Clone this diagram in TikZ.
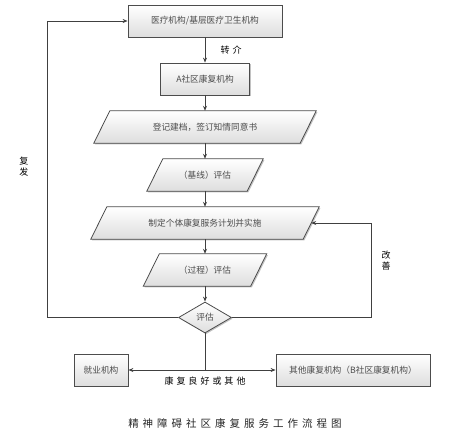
\documentclass[tikz,border=0pt]{standalone}
\usepackage{fontspec}
\newfontfamily\cjk{Noto Sans CJK SC}
\usetikzlibrary{shapes.geometric,shadows,arrows.meta,backgrounds}
\newcommand\zzsp{\hspace{3pt}}
\newcommand\zzts{\hspace{4pt}}
\begin{document}
\begin{tikzpicture}[x=1pt,y=-1pt,
  line/.style={draw=black!75, line width=0.8pt},
  arr/.style={line, -{Stealth[length=5pt,width=4pt]}},
  boxbase/.style={font=\cjk\fontsize{8.7}{10}\selectfont, text=black!70, inner sep=0pt},
  fillstyle/.style={draw=black!70, line width=0.8pt, top color=white, bottom color=black!13,
    drop shadow={shadow xshift=1.2pt, shadow yshift=-1.2pt, fill=black!40, opacity=0.6}},
  procbox/.style={boxbase, rectangle, fillstyle, minimum height=32pt},
  parabody/.style={boxbase, rectangle, minimum height=32pt},
  lbl/.style={font=\cjk\fontsize{9}{11}\selectfont, text=black},
]
\useasboundingbox (0,0) rectangle (452,439);

% process boxes
\node[procbox, minimum width=154pt] (b1) at (205,21) {医疗机构/基层医疗卫生机构};
\node[procbox, minimum width=89pt] (b2) at (205,79) {A社区康复机构};

% parallelogram bodies
\node[parabody, minimum width=206pt] (p1) at (205,127) {登记建档，签订知情同意书};
\node[parabody, minimum width=100pt] (p2) at (205,175) {（基线）评估};
\node[parabody, minimum width=212pt] (p3) at (205,223) {制定个体康复服务计划并实施};
\node[parabody, minimum width=107pt] (p4) at (205,270) {（过程）评估};

\begin{scope}[on background layer]
\foreach \p in {p1,p2,p3,p4}{
  \path[fillstyle] ([xshift=8pt]\p.north west) -- ([xshift=8pt]\p.north east)
    -- ([xshift=-8pt]\p.south east) -- ([xshift=-8pt]\p.south west) -- cycle;
}
\end{scope}

% decision
\node[boxbase, diamond, fillstyle, minimum width=53pt, minimum height=31pt, aspect=1.7] (d) at (205,317.5) {评估};

% bottom boxes
\node[procbox, minimum width=54pt] (jy) at (101,370) {就业机构};
\node[procbox, minimum width=154pt] (qt) at (353,370) {其他康复机构（B社区康复机构）};

% connectors
\draw[arr] (b1) -- (b2);
\draw[arr] (b2) -- (p1);
\draw[arr] (p1) -- (p2);
\draw[arr] (p2) -- (p3);
\draw[arr] (p3) -- (p4);
\draw[arr] (p4) -- (d);

\coordinate (L) at (47,21);
\draw[arr] (d.west) -| (L) |- (b1.west);
\coordinate (R) at (371,223);
\draw[arr] (d.east) -| (R) |- (p3.east);

\coordinate (B) at (205,370);
\draw[line] (d.south) -- (B);
\draw[arr] (B) -- (jy.east);
\draw[arr] (B) -- (qt.west);

% labels
\node[lbl] (zj) at (231,50) {转\zzsp 介};
\node[lbl] (kf) at (205,381) {康\zzsp 复\zzsp 良\zzsp 好\zzsp 或\zzsp 其\zzsp 他};
\node[lbl, align=center] (ff) at (24,167) {复\\发};
\node[lbl, align=center] (gs) at (386,261) {改\\善};
\node[font=\cjk\fontsize{10.5}{12}\selectfont, text=black!85] (title) at (235,423)
  {精\zzts 神\zzts 障\zzts 碍\zzts 社\zzts 区\zzts 康\zzts 复\zzts 服\zzts 务\zzts 工\zzts 作\zzts 流\zzts 程\zzts 图};
\end{tikzpicture}
\end{document}
